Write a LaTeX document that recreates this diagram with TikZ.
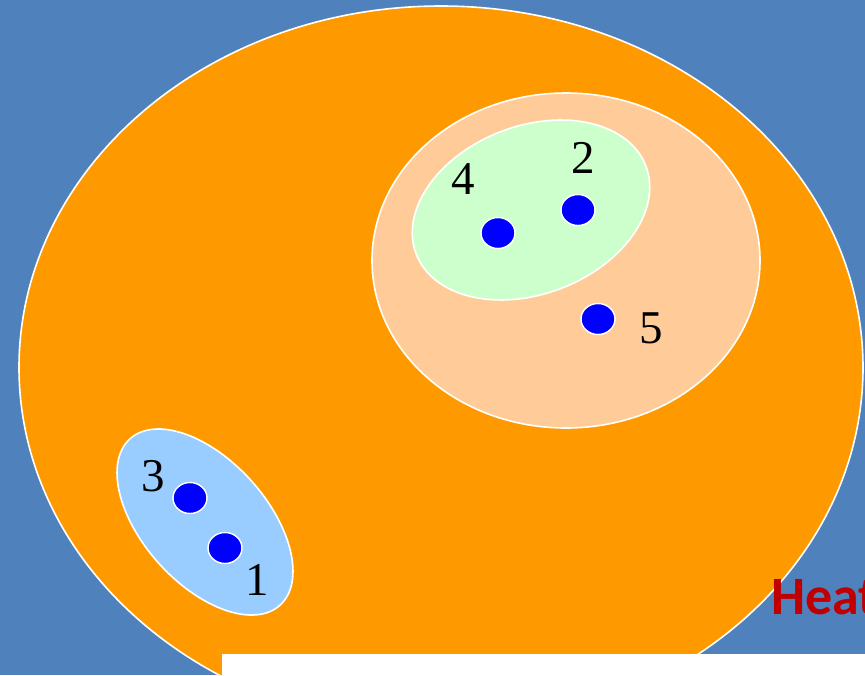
\documentclass[tikz,border=0pt]{standalone}
\usepackage{fontspec}
\setmainfont{Liberation Serif}
\newfontfamily\heatfont{Carlito}
\usetikzlibrary{shapes.geometric}
\definecolor{bgblue}{HTML}{4F81BD}
\definecolor{orangeset}{HTML}{FF9900}
\definecolor{peachset}{HTML}{FFCC99}
\definecolor{greenset}{HTML}{CCFFCC}
\definecolor{blueset}{HTML}{99CCFF}
\definecolor{dotblue}{HTML}{0000FF}
\definecolor{heatred}{HTML}{C00000}
\tikzset{
  setline/.style={draw=white, line width=1.6pt},
  elem/.style={ellipse, fill=dotblue, draw=white, line width=1.4pt, minimum width=34pt, minimum height=31pt, inner sep=0pt},
  lbl/.style={inner sep=0pt, font=\fontsize{47}{47}\selectfont}
}
\begin{document}
\begin{tikzpicture}[x=1pt,y=-1pt]
\useasboundingbox (0,0) rectangle (865,675);
\clip (0,0) rectangle (865,675);
\fill[bgblue] (0,0) rectangle (865,675);
% outer set
\path[setline, fill=orangeset] (441,367.5) ellipse [x radius=422, y radius=361.5];
% peach set
\path[setline, fill=peachset] (566,260.5) ellipse [x radius=194, y radius=167.5];
% green set
\path[setline, fill=greenset, rotate around={21:(531,210)}] (531,210) ellipse [x radius=123, y radius=84];
% light blue set
\path[setline, fill=blueset, rotate around={-48:(205,522)}] (205,522) ellipse [x radius=112, y radius=62];
% white strip at bottom
\fill[white] (222,654) rectangle (865,676);
% elements
\node[elem] (d1) at (225,548) {};
\node[elem] (d2) at (578,210) {};
\node[elem] (d3) at (190,498) {};
\node[elem] (d4) at (498,233) {};
\node[elem] (d5) at (598,319) {};
\node[lbl] (l1) at (257,580) {1};
\node[lbl] (l2) at (583,158) {2};
\node[lbl] (l3) at (153,476) {3};
\node[lbl] (l4) at (463,179) {4};
\node[lbl] (l5) at (651,328) {5};
\node[anchor=base west, inner sep=0pt, text=heatred, font=\heatfont\bfseries\fontsize{54}{54}\selectfont] (heat) at (771,614) {Heat};
\end{tikzpicture}
\end{document}
